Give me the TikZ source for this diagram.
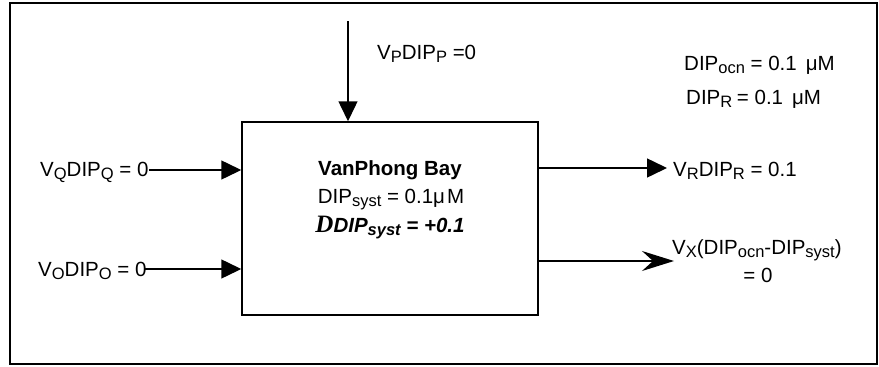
\documentclass[tikz,border=0pt]{standalone}
\usepackage{fontspec}
\setmainfont{Liberation Sans}
\newfontfamily\serifD{Liberation Serif}
\usetikzlibrary{arrows.meta}
\newcommand{\sbs}[1]{\raisebox{-0.17em}{\fontsize{16.5}{16.5}\selectfont #1}}
\begin{document}
\begin{tikzpicture}[x=1pt,y=-1pt, font=\fontsize{20.5}{24}\selectfont,
  lab/.style={inner sep=0pt, anchor=base west},
  ctr/.style={inner sep=0pt, anchor=base},
  tri/.style={-{Triangle[length=20pt,width=19pt]}, line width=1.5pt},
  stl/.style={-{Stealth[length=32pt,width=20pt,inset=11pt]}, line width=1.5pt}]
\useasboundingbox (0,0) rectangle (879,367);
\draw[line width=2pt] (10,3) rectangle (877,364);
% central box
\node[draw, line width=1.5pt, minimum width=296pt, minimum height=193pt, inner sep=0pt] (bay) at (390,218.5) {};
\node[ctr, font=\fontsize{20.5}{24}\selectfont\bfseries] (title) at (390,175) {VanPhong Bay};
\node[ctr] (syst) at (391,203) {DIP\sbs{syst} = 0.1μ\hspace{2pt}M};
\node[ctr] (delta) at (390,232) {{\serifD\bfseries\itshape\fontsize{25}{26}\selectfont D}{\bfseries\itshape DIP\sbs{syst} = +0.1}};
% top input
\coordinate (ptop) at (348,21);
\draw[tri] (ptop) -- (ptop |- bay.north);
\node[lab] (plab) at (377,59) {V\sbs{P}DIP\sbs{P} =0};
% right notes
\node[lab] (ocn) at (684,70) {DIP\sbs{ocn} = 0.1\hspace{9pt}μM};
\node[lab] (dipr) at (686,104) {DIP\sbs{R}\hspace{-1pt} = 0.1\hspace{9pt}μM};
% Q input
\node[lab] (qlab) at (40,176) {V\sbs{Q}DIP\sbs{Q} = 0};
\coordinate (qin) at (149,170);
\draw[tri] (qin) -- (qin -| bay.west);
% O input
\node[lab] (olab) at (38,276) {V\sbs{O}DIP\sbs{O} = 0};
\coordinate (oin) at (145,269);
\draw[tri] (oin) -- (oin -| bay.west);
% R output
\coordinate (rtip) at (667,168);
\draw[tri] (rtip -| bay.east) -- (rtip);
\node[lab] (rlab) at (673,176) {V\sbs{R}DIP\sbs{R} = 0.1};
% X exchange
\coordinate (xtip) at (674,261);
\draw[stl] (xtip -| bay.east) -- (xtip);
\node[lab] (xlab) at (672,254) {V\sbs{X}(DIP\sbs{ocn}-DIP\sbs{syst})};
\node[ctr] (xlab2) at (758,282) {= 0};
\end{tikzpicture}
\end{document}
